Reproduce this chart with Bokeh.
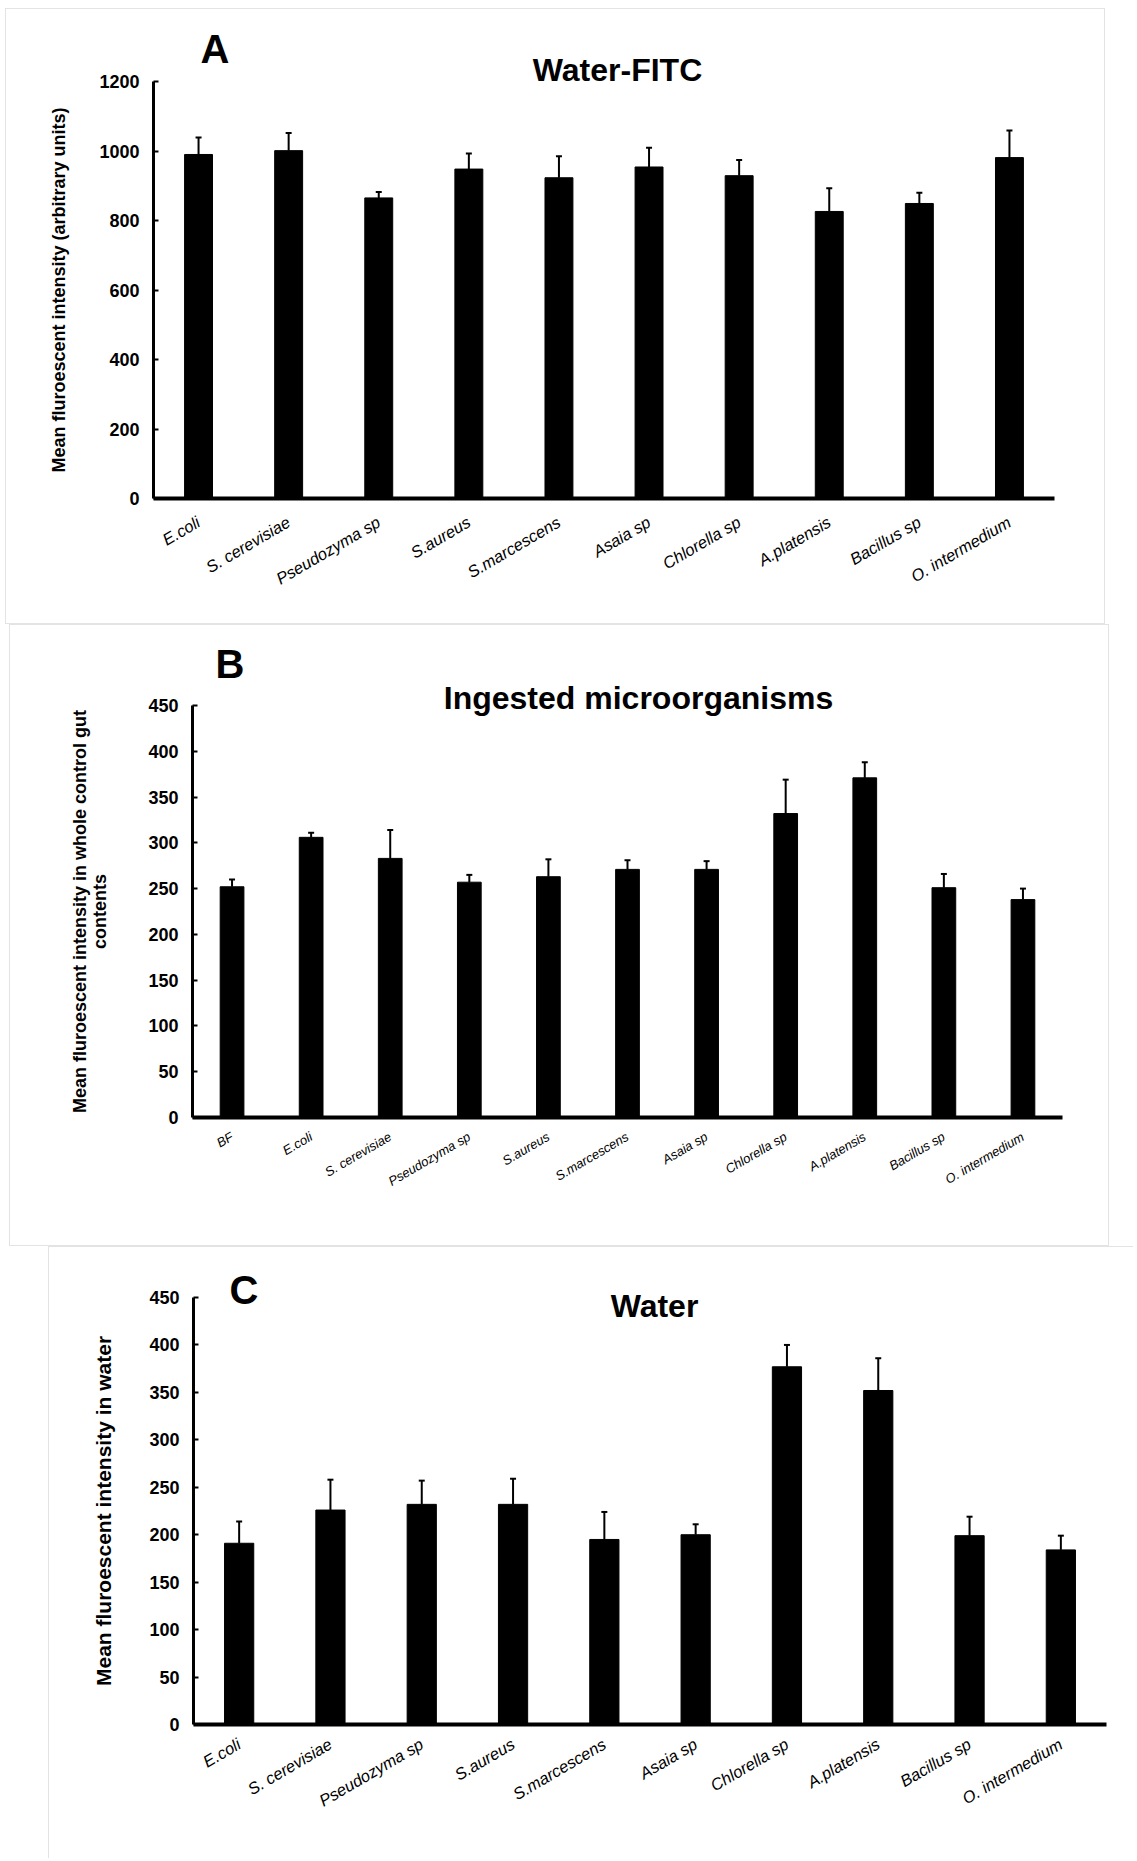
from bokeh.plotting import figure
from bokeh.models import ColumnDataSource, Whisker, TeeHead, Label, FixedTicker, Range1d
from bokeh.layouts import column
from bokeh.embed import file_html
from bokeh.resources import INLINE

FONT = "Liberation Sans"

# ---------------- data ----------------
cats_a = ["E.coli", "S. cerevisiae", "Pseudozyma sp", "S.aureus", "S.marcescens",
          "Asaia sp", "Chlorella sp", "A.platensis", "Bacillus sp", "O. intermedium"]
vals_a = [990, 1001, 865, 948, 923, 954, 929, 826, 849, 981]
sd_a = [49, 51, 17, 45, 62, 55, 45, 67, 31, 78]
ticks_a = [0, 200, 400, 600, 800, 1000, 1200]

cats_b = ["BF", "E.coli", "S. cerevisiae", "Pseudozyma sp", "S.aureus", "S.marcescens",
          "Asaia sp", "Chlorella sp", "A.platensis", "Bacillus sp", "O. intermedium"]
vals_b = [252, 306, 283, 257, 263, 271, 271, 332, 371, 251, 238]
sd_b = [8, 5, 31, 8, 19, 10, 9, 37, 17, 15, 12]
ticks_b = [0, 50, 100, 150, 200, 250, 300, 350, 400, 450]

cats_c = ["E.coli", "S. cerevisiae", "Pseudozyma sp", "S.aureus", "S.marcescens",
          "Asaia sp", "Chlorella sp", "A.platensis", "Bacillus sp", "O. intermedium"]
vals_c = [191, 226, 232, 232, 195, 200, 377, 352, 199, 184]
sd_c = [23, 32, 25, 27, 29, 11, 23, 34, 20, 15]
ticks_c = [0, 50, 100, 150, 200, 250, 300, 350, 400, 450]


def panel(cats, vals, sds, ticks, canvas, axes_px, bar_w, ylabel, ylab_size,
          ylab_standoff, ytick_size, xtick_size, xtick_standoff, letter, letter_px,
          title, title_size, title_px, shadow):
    # canvas: page-pixel box (left, top, width, height)
    # axes_px: page pixels of (y-axis x, x-axis right end, y of 0, y of top tick)
    CL, CT, W, H = canvas
    ax_l, ax_r, y0_px, ytop_px = axes_px
    n = len(cats)
    ytop = ticks[-1]
    ux = (ax_r - ax_l) / n
    uy = (y0_px - ytop_px) / ytop
    xs = -0.5 - (ax_l - CL) / ux
    xe = n - 0.5 + (CL + W - ax_r) / ux
    ys = -(CT + H - y0_px) / uy
    ye = ytop + (ytop_px - CT) / uy

    def X(px):
        return xs + (px - CL) / ux

    def Y(py):
        return ys + (CT + H - py) / uy

    p = figure(width=W, height=H, x_range=Range1d(xs, xe), y_range=Range1d(ys, ye),
               output_backend="svg", toolbar_location=None, title=None,
               min_border=0, min_border_left=0, min_border_right=0,
               min_border_top=0, min_border_bottom=0,
               margin=(0, 0, 0, CL))
    p.border_fill_color = None
    p.background_fill_color = None
    p.outline_line_color = None
    p.styles = {"box-shadow": shadow}
    p.xgrid.visible = False
    p.ygrid.visible = False

    xpos = list(range(n))
    src = ColumnDataSource(dict(x=xpos, val=vals, up=[v + s for v, s in zip(vals, sds)]))
    p.vbar(x="x", top="val", width=bar_w, source=src, fill_color="black", line_color="black")
    w = Whisker(source=src, base="x", upper="up", lower="val", dimension="height",
                line_width=2, line_color="black",
                upper_head=TeeHead(size=6, line_width=2, line_color="black"), lower_head=None)
    p.add_layout(w)

    ya = p.yaxis[0]
    ya.fixed_location = -0.5
    ya.bounds = (0, ytop)
    ya.ticker = FixedTicker(ticks=ticks)
    ya.minor_tick_line_color = None
    ya.major_tick_in = 5
    ya.major_tick_out = 0
    ya.major_tick_line_width = 2
    ya.axis_line_width = 3
    ya.major_label_text_font = FONT
    ya.major_label_text_font_style = "bold"
    ya.major_label_text_font_size = f"{ytick_size}px"
    ya.major_label_text_color = "black"
    ya.major_label_standoff = 14
    ya.axis_label = ylabel
    ya.axis_label_text_font = FONT
    ya.axis_label_text_font_style = "bold"
    ya.axis_label_text_font_size = f"{ylab_size}px"
    ya.axis_label_text_line_height = 1.0
    ya.axis_label_text_color = "black"
    ya.axis_label_standoff = ylab_standoff

    xa = p.xaxis[0]
    xa.fixed_location = 0
    xa.bounds = (-0.5, n - 0.5)
    xa.ticker = FixedTicker(ticks=xpos)
    xa.major_label_overrides = {i: c for i, c in zip(xpos, cats)}
    xa.major_tick_line_color = None
    xa.minor_tick_line_color = None
    xa.axis_line_width = 4
    xa.major_label_orientation = 0.53
    xa.major_label_text_font = FONT
    xa.major_label_text_font_style = "italic"
    xa.major_label_text_font_size = f"{xtick_size}px"
    xa.major_label_text_color = "black"
    xa.major_label_standoff = xtick_standoff

    p.add_layout(Label(x=X(letter_px[0]), y=Y(letter_px[1]), text=letter, text_font=FONT,
                       text_font_style="bold", text_font_size="40px", text_align="left",
                       text_baseline="alphabetic", text_color="black"))
    p.add_layout(Label(x=X(title_px[0]), y=Y(title_px[1]), text=title, text_font=FONT,
                       text_font_style="bold", text_font_size=f"{title_size}px",
                       text_align="center", text_baseline="alphabetic", text_color="black"))
    return p


pa = panel(cats_a, vals_a, sd_a, ticks_a, (5, 8, 1100, 616), (153, 1054, 498, 81), 0.31,
           "Mean fluroescent intensity (arbitrary units)", 18, 27, 18, 16.5, 16,
           "A", (200, 48), "Water-FITC", 32, (617, 69),
           "inset 0 0 0 1px #e3e3e3")

pb = panel(cats_b, vals_b, sd_b, ticks_b, (9, 624, 1100, 622), (192, 1062, 1117, 705), 0.30,
           "Mean fluroescent intensity in whole control gut\ncontents", 18, 35, 18, 13, 12,
           "B", (215, 663), "Ingested microorganisms", 32, (638, 697),
           "inset 0 0 0 1px #e3e3e3")

pc = panel(cats_c, vals_c, sd_c, ticks_c, (48, 1246, 1085, 612), (193, 1106, 1724, 1297), 0.32,
           "Mean fluroescent intensity in water", 21, 31, 18, 16.5, 12,
           "C", (229, 1289), "Water", 32, (654, 1305),
           "inset 1px 1px 0 0 #e3e3e3")

layout = column(pa, pb, pc, margin=(8, 0, 0, 0))
open("out.html", "w").write(file_html(layout, INLINE))
